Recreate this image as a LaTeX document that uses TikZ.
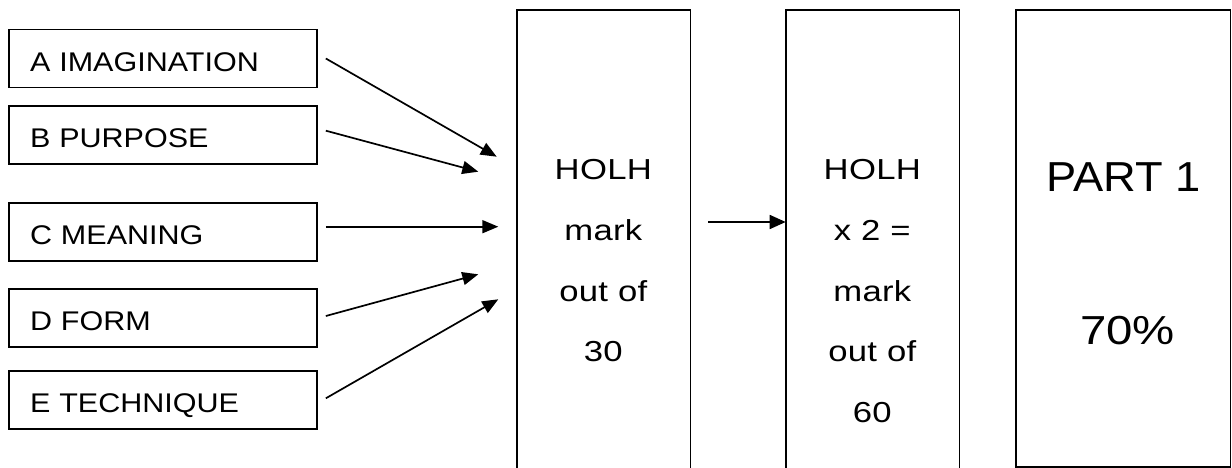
\documentclass[tikz,border=0pt]{standalone}
\usepackage{fontspec}
\setmainfont{Liberation Sans}
\newfontfamily\critfont[FakeStretch=1.13]{Liberation Sans}
\newfontfamily\markfont[FakeStretch=1.2, LetterSpace=1]{Liberation Sans}
\newfontfamily\partfont[FakeStretch=1.08]{Liberation Sans}
\newfontfamily\pctfont[FakeStretch=1.17]{Liberation Sans}
\usetikzlibrary{arrows.meta}

\begin{document}
\begin{tikzpicture}[x=1pt, y=-1pt,
  critbox/.style={draw, line width=1.7pt, rectangle, minimum height=58pt,
    text width=266pt, inner xsep=21pt, inner ysep=0pt, align=left,
    text height=25.5pt, text depth=0pt,
    font=\critfont\fontsize{27}{32}\selectfont},
  holder/.style={draw=none, rectangle, inner sep=0pt, anchor=north west},
  frame/.style={line width=1.7pt},
  marktext/.style={inner sep=0pt, align=center, anchor=north,
    font=\markfont\fontsize{28.9}{60.7}\selectfont},
  arr/.style={line width=1.7pt, -{Triangle[length=16pt, width=13pt]}},
  arrmid/.style={line width=1.7pt, -{Triangle[length=16pt, width=14pt]}}
]
\useasboundingbox (0,0) rectangle (1232,468);

% criteria boxes
\node[critbox] (boxA) at (163,58.5) {A IMAGINATION};
\node[critbox] (boxB) at (163,135)  {B PURPOSE};
\node[critbox] (boxC) at (163,232)  {C MEANING};
\node[critbox] (boxD) at (163,318)  {D FORM};
\node[critbox] (boxE) at (163,400)  {E TECHNIQUE};

% arrow heads meeting the first mark column
\coordinate (tA) at (496.7,156.7);
\coordinate (tB) at (478.3,171.7);
\coordinate (tC) at (498.3,226.7);
\coordinate (tD) at (478.3,274.3);
\coordinate (tE) at (498.3,299.3);

\draw[arr] ([xshift=8pt]boxA.east) -- (tA);
\draw[arr] ([xshift=8pt, yshift=4.3pt]boxB.east) -- (tB);
\draw[arr] ([xshift=8pt, yshift=5.3pt]boxC.east) -- (tC);
\draw[arr] ([xshift=8pt, yshift=2pt]boxD.east) -- (tD);
\draw[arr] ([xshift=8pt, yshift=1.7pt]boxE.east) -- (tE);

% mark columns, open at the foot
\node[holder, minimum width=173.3pt, minimum height=458pt] (box1) at (516.7,10) {};
\node[holder, minimum width=173.3pt, minimum height=458pt] (box2) at (785.7,10) {};
\node[holder, minimum width=214.3pt, minimum height=456.7pt] (box3) at (1015.7,10) {};

\draw[frame] (box1.south west) |- (box1.north east) -- (box1.south east);
\draw[frame] (box2.south west) |- (box2.north east) -- (box2.south east);
\draw[frame] (box3.south west) rectangle (box3.north east);

\node[marktext] (t1) at (603.3,159.3) {HOLH\\mark\\out of\\30};
\node[marktext] (t2) at (872.3,159.3) {HOLH\\x 2 =\\mark\\out of\\60};

\node[inner sep=0pt, anchor=base, font=\partfont\fontsize{41.9}{48}\selectfont]
  (part) at (1124,191.7) {PART 1};
\node[inner sep=0pt, anchor=base, font=\pctfont\fontsize{40.5}{48}\selectfont]
  (pct) at (1127.5,344) {70\%};

\coordinate (midrow) at (0,222);
\draw[arrmid, shorten <=18pt] (box1.east |- midrow) -- (box2.west |- midrow);
\end{tikzpicture}
\end{document}
